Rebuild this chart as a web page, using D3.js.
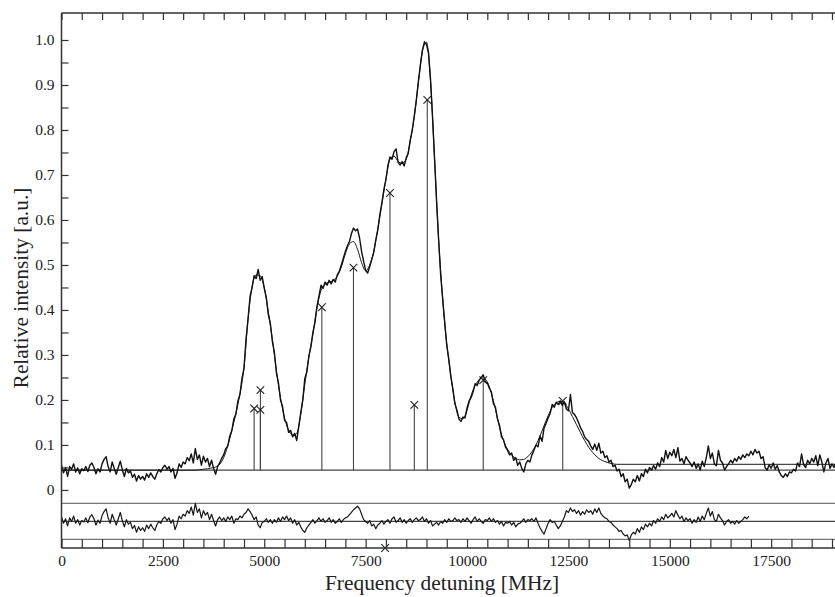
<!DOCTYPE html>
<html><head><meta charset="utf-8">
<script src="https://cdn.jsdelivr.net/npm/d3@7"></script>
<style>
body{margin:0;background:#fff}
svg{display:block}
text{font-family:"Liberation Serif","Times New Roman",serif;fill:#222}
</style>
</head><body>
<svg id="chart" width="835" height="597"></svg>
<script>
// ---- data ----
const sampleStep = 50; // MHz between measured points
const signal = [
0.055,0.038,0.050,0.030,0.052,0.046,0.058,0.040,0.049,0.036,0.047,0.043,0.052,0.041,0.055,0.060,0.050,0.036,0.047,0.040,0.058,
0.068,0.074,0.052,0.040,0.062,0.048,0.035,0.050,0.064,0.045,0.030,0.048,0.038,0.042,0.028,0.035,0.020,0.032,0.024,0.030,
0.022,0.036,0.028,0.038,0.030,0.024,0.036,0.045,0.040,0.050,0.055,0.046,0.052,0.040,0.048,0.026,0.038,0.058,0.050,0.062,
0.058,0.072,0.065,0.080,0.060,0.092,0.068,0.078,0.055,0.075,0.062,0.070,0.052,0.066,0.048,0.035,0.052,0.060,0.070,0.078,
0.092,0.098,0.120,0.132,0.158,0.168,0.198,0.212,0.248,0.270,0.335,0.380,0.430,0.450,0.476,0.470,0.490,0.466,0.474,0.448,
0.428,0.390,0.370,0.330,0.305,0.260,0.238,0.200,0.186,0.155,0.150,0.128,0.132,0.118,0.126,0.110,0.140,0.172,0.200,0.248,
0.262,0.298,0.318,0.350,0.372,0.408,0.432,0.455,0.448,0.462,0.455,0.466,0.458,0.468,0.462,0.478,0.486,0.500,0.515,0.530,
0.542,0.552,0.570,0.582,0.576,0.580,0.560,0.530,0.508,0.488,0.482,0.496,0.512,0.528,0.556,0.578,0.612,0.638,0.668,0.690,
0.722,0.740,0.735,0.752,0.758,0.728,0.722,0.730,0.720,0.738,0.748,0.778,0.800,0.832,0.866,0.908,0.944,0.978,0.996,0.990,
0.972,0.912,0.828,0.735,0.640,0.556,0.478,0.424,0.372,0.322,0.292,0.252,0.225,0.192,0.178,0.158,0.152,0.162,0.160,0.182,
0.198,0.205,0.218,0.236,0.232,0.244,0.250,0.256,0.240,0.238,0.226,0.218,0.192,0.184,0.158,0.144,0.118,0.112,0.095,0.088,
0.078,0.082,0.066,0.072,0.055,0.062,0.048,0.040,0.058,0.066,0.062,0.078,0.088,0.100,0.096,0.120,0.108,0.138,0.148,0.160,
0.170,0.190,0.184,0.195,0.190,0.198,0.188,0.196,0.180,0.176,0.212,0.172,0.168,0.160,0.150,0.138,0.130,0.118,0.112,0.108,
0.098,0.090,0.102,0.088,0.104,0.082,0.086,0.072,0.076,0.062,0.066,0.052,0.055,0.042,0.046,0.030,0.036,0.018,0.024,0.004,
0.012,0.024,0.018,0.032,0.020,0.036,0.030,0.046,0.038,0.050,0.044,0.054,0.046,0.060,0.052,0.072,0.062,0.088,0.070,0.084,
0.076,0.090,0.072,0.094,0.064,0.070,0.058,0.074,0.066,0.060,0.052,0.062,0.048,0.058,0.044,0.064,0.052,0.072,0.098,0.070,
0.082,0.058,0.054,0.088,0.066,0.060,0.044,0.052,0.058,0.066,0.060,0.070,0.064,0.074,0.068,0.078,0.072,0.080,0.076,0.086,
0.078,0.090,0.082,0.086,0.070,0.074,0.050,0.044,0.056,0.048,0.060,0.046,0.054,0.040,0.032,0.028,0.036,0.030,0.040,0.038,
0.046,0.042,0.060,0.052,0.080,0.056,0.050,0.066,0.058,0.070,0.062,0.076,0.054,0.078,0.062,0.040,0.060,0.070,0.048,0.058,
0.050,0.062
];
const fitFreq = [0,3300,3400,3500,3600,3700,3800,3900,4000,4100,4200,4300,4400,4500,4600,4700,4800,4900,5000,
5100,5200,5300,5400,5500,5600,5700,5800,5900,6000,6100,6200,6300,6400,6500,6600,6700,6800,6900,7000,
7100,7200,7300,7400,7500,7600,7700,7800,7900,8000,8100,8200,8300,8400,8500,8600,8700,8800,8900,9000,
9100,9200,9300,9400,9500,9600,9700,9800,9900,10000,10100,10200,10300,10400,10500,10600,10700,10800,10900,11000,
11100,11200,11300,11400,11500,11600,11700,11800,11900,12000,12100,12200,12300,12400,12500,12600,12700,12800,12900,13000,
13100,13200,13300,13400,13500,13600,13700,19100];
const fitValue = [0.044,0.044,0.045,0.046,0.047,0.049,0.051,0.057,0.072,0.098,0.132,0.170,0.213,0.272,0.380,0.452,0.478,0.476,0.450,
0.395,0.335,0.265,0.205,0.160,0.133,0.122,0.126,0.168,0.235,0.295,0.347,0.405,0.443,0.457,0.462,0.465,0.475,0.495,0.525,
0.547,0.552,0.535,0.505,0.487,0.500,0.530,0.580,0.635,0.690,0.735,0.742,0.730,0.726,0.735,0.775,0.830,0.905,0.975,0.995,
0.910,0.735,0.555,0.425,0.325,0.255,0.195,0.162,0.158,0.177,0.210,0.232,0.245,0.249,0.240,0.215,0.180,0.140,0.110,0.090,
0.078,0.070,0.067,0.068,0.074,0.085,0.100,0.120,0.143,0.165,0.183,0.194,0.197,0.193,0.180,0.163,0.145,0.127,0.110,0.095,
0.083,0.074,0.067,0.063,0.060,0.058,0.057,0.057];
const residual = [
-0.060,-0.074,-0.064,-0.080,-0.062,-0.070,-0.058,-0.074,-0.066,-0.078,-0.068,-0.071,-0.062,-0.073,-0.060,-0.055,-0.064,-0.078,-0.067,-0.074,-0.057,
-0.048,-0.042,-0.062,-0.074,-0.054,-0.066,-0.078,-0.064,-0.050,-0.068,-0.082,-0.066,-0.076,-0.072,-0.086,-0.079,-0.094,-0.082,-0.090,-0.084,
-0.092,-0.078,-0.086,-0.076,-0.084,-0.090,-0.078,-0.070,-0.074,-0.064,-0.060,-0.068,-0.062,-0.074,-0.066,-0.088,-0.076,-0.058,-0.064,-0.054,
-0.058,-0.046,-0.052,-0.038,-0.056,-0.030,-0.050,-0.042,-0.062,-0.046,-0.056,-0.050,-0.066,-0.054,-0.068,-0.080,-0.066,-0.060,-0.068,-0.062,
-0.070,-0.060,-0.066,-0.058,-0.074,-0.064,-0.066,-0.058,-0.062,-0.054,-0.050,-0.042,-0.048,-0.056,-0.066,-0.060,-0.078,-0.084,-0.072,-0.070,
-0.064,-0.072,-0.066,-0.074,-0.066,-0.072,-0.062,-0.070,-0.060,-0.066,-0.058,-0.068,-0.062,-0.074,-0.066,-0.078,-0.072,-0.082,-0.090,-0.094,
-0.084,-0.078,-0.072,-0.066,-0.074,-0.068,-0.062,-0.070,-0.064,-0.072,-0.068,-0.062,-0.072,-0.066,-0.074,-0.070,-0.064,-0.072,-0.066,-0.062,
-0.060,-0.055,-0.050,-0.044,-0.040,-0.036,-0.042,-0.054,-0.066,-0.070,-0.074,-0.068,-0.080,-0.076,-0.086,-0.078,-0.074,-0.068,-0.076,-0.070,
-0.066,-0.074,-0.064,-0.060,-0.072,-0.068,-0.062,-0.072,-0.066,-0.074,-0.068,-0.064,-0.072,-0.066,-0.062,-0.068,-0.066,-0.060,-0.070,-0.064,
-0.074,-0.068,-0.080,-0.076,-0.072,-0.078,-0.070,-0.074,-0.066,-0.072,-0.064,-0.070,-0.068,-0.062,-0.068,-0.066,-0.072,-0.064,-0.070,-0.062,
-0.068,-0.074,-0.066,-0.060,-0.070,-0.064,-0.070,-0.074,-0.066,-0.068,-0.062,-0.070,-0.064,-0.072,-0.068,-0.076,-0.070,-0.080,-0.072,-0.074,
-0.070,-0.078,-0.072,-0.082,-0.076,-0.074,-0.070,-0.064,-0.072,-0.066,-0.068,-0.064,-0.070,-0.062,-0.074,-0.084,-0.092,-0.098,-0.086,-0.074,
-0.066,-0.072,-0.070,-0.078,-0.086,-0.080,-0.070,-0.060,-0.046,-0.050,-0.040,-0.048,-0.044,-0.052,-0.046,-0.056,-0.048,-0.054,-0.044,-0.050,
-0.046,-0.054,-0.042,-0.050,-0.040,-0.052,-0.058,-0.062,-0.064,-0.070,-0.072,-0.078,-0.082,-0.086,-0.092,-0.090,-0.098,-0.102,-0.100,-0.112,
-0.100,-0.094,-0.098,-0.086,-0.094,-0.082,-0.088,-0.076,-0.082,-0.074,-0.080,-0.068,-0.074,-0.064,-0.070,-0.060,-0.066,-0.054,-0.062,-0.058,
-0.052,-0.060,-0.046,-0.056,-0.064,-0.058,-0.070,-0.062,-0.068,-0.064,-0.074,-0.066,-0.072,-0.060,-0.070,-0.058,-0.066,-0.052,-0.040,-0.058,
-0.048,-0.066,-0.070,-0.054,-0.062,-0.068,-0.078,-0.070,-0.066,-0.074,-0.070,-0.076,-0.068,-0.074,-0.070,-0.066,-0.060,-0.064,-0.058
];
const stickFreq  = [4750, 4905, 4905, 6420, 7200, 8100, 8700, 9020, 10400, 12360];
const stickValue = [0.181, 0.222, 0.178, 0.406, 0.494, 0.660, 0.189, 0.867, 0.244, 0.198];
const extraMarkerFreq = [7980];
const extraMarkerValue = [-0.129];
const baselineLevel = 0.044;
const residualLevels = [-0.03, -0.07, -0.11];
const residualColors = ["#777", "#444", "#777"];
const xTickValues = d3.range(0, 19001, 500);
const xTickLabels = ["0","2500","5000","7500","10000","12500","15000","17500"];
const yTickValues = d3.range(0, 20.5, 1).map(k => k / 20);
const yTickLabels = ["0","0.1","0.2","0.3","0.4","0.5","0.6","0.7","0.8","0.9","1.0"];

// ---- layout ----
const W = 835, H = 597;
const padL = 61.5, padR = 832, padT = 13, padB = 548;
const x = d3.scaleLinear().domain([0, 19000]).range([padL, padR]);
const y = d3.scaleLinear().domain([-0.129, 1.06]).range([padB, padT]);

const svg = d3.select("#chart");
svg.append("defs").append("clipPath").attr("id","plot")
  .append("rect").attr("x", padL).attr("y", padT).attr("width", W - padL).attr("height", padB - padT);
const g = svg.append("g").attr("clip-path","url(#plot)");

// horizontal reference lines
g.append("line").attr("x1", padL).attr("x2", W).attr("y1", y(baselineLevel)).attr("y2", y(baselineLevel))
  .attr("stroke","#444").attr("stroke-width",1.1);
residualLevels.forEach((lv, i) => {
  g.append("line").attr("x1", padL).attr("x2", W).attr("y1", y(lv)).attr("y2", y(lv))
    .attr("stroke", residualColors[i]).attr("stroke-width",1.2);
});

// sticks + crosses
const cross = (cx, cy, s) => `M${cx-s},${cy-s}L${cx+s},${cy+s}M${cx+s},${cy-s}L${cx-s},${cy+s}`;
stickFreq.forEach((f, i) => {
  g.append("line").attr("x1", x(f)).attr("x2", x(f)).attr("y1", y(baselineLevel)).attr("y2", y(stickValue[i]))
    .attr("stroke","#444").attr("stroke-width",1.1);
  g.append("path").attr("d", cross(x(f), y(stickValue[i]), 3.8)).attr("stroke","#222").attr("stroke-width",1.1).attr("fill","none");
});
extraMarkerFreq.forEach((f, i) => {
  svg.append("path").attr("d", cross(x(f), y(extraMarkerValue[i]), 3.8)).attr("stroke","#222").attr("stroke-width",1.1).attr("fill","none");
});

// residual trace
const sampleLine = d3.line().x((d, i) => x(i * sampleStep)).y(d => y(d));
g.append("path").datum(residual).attr("d", sampleLine)
  .attr("fill","none").attr("stroke","#161616").attr("stroke-width",1.2).attr("stroke-linejoin","round");

// fit curve
const fitLine = d3.line().x(d => x(d[0])).y(d => y(d[1])).curve(d3.curveMonotoneX);
g.append("path").datum(fitFreq.map((f, i) => [f, fitValue[i]])).attr("d", fitLine)
  .attr("fill","none").attr("stroke","#1a1a1a").attr("stroke-width",1.0);

// measured signal
g.append("path").datum(signal).attr("d", sampleLine)
  .attr("fill","none").attr("stroke","#111").attr("stroke-width",1.4).attr("stroke-linejoin","round");

// ---- axes ----
const axisColor = "#333";
const majorX = xTickValues.filter(v => v % 2500 === 0);
const fmtX = d => { const k = majorX.indexOf(d); return k >= 0 ? xTickLabels[k] : ""; };
const bottomAxis = svg.append("g").attr("transform", `translate(0,${padB})`)
  .call(d3.axisBottom(x).tickValues(xTickValues).tickSize(-9).tickPadding(7).tickFormat(fmtX));
const topAxis = svg.append("g").attr("transform", `translate(0,${padT})`)
  .call(d3.axisTop(x).tickValues(xTickValues).tickSize(-7).tickFormat(""));
const fmtY = d => { const k = Math.round(d * 20); return k % 2 === 0 ? yTickLabels[k / 2] : ""; };
const leftAxis = svg.append("g").attr("transform", `translate(${padL},0)`)
  .call(d3.axisLeft(y).tickValues(yTickValues).tickSize(-7).tickPadding(7).tickFormat(fmtY));
[bottomAxis, topAxis, leftAxis].forEach(a => {
  a.select(".domain").remove();
  a.selectAll(".tick line").attr("stroke", axisColor).attr("stroke-width", 1.2);
  a.selectAll(".tick text").attr("font-size", 15.5).attr("fill", "#222")
    .attr("font-family", '"Liberation Serif","Times New Roman",serif');
});
// frame lines
svg.append("line").attr("x1", padL).attr("x2", W).attr("y1", padB).attr("y2", padB).attr("stroke", axisColor).attr("stroke-width", 1.5);
svg.append("line").attr("x1", padL).attr("x2", W).attr("y1", padT).attr("y2", padT).attr("stroke", axisColor).attr("stroke-width", 1.5);
svg.append("line").attr("x1", padL).attr("x2", padL).attr("y1", padT).attr("y2", padB).attr("stroke", axisColor).attr("stroke-width", 1.5);

// titles
svg.append("text").attr("x", 442).attr("y", 590).attr("text-anchor","middle").attr("font-size", 21.4)
  .text("Frequency detuning [MHz]");
svg.append("text").attr("transform", "translate(28,288) rotate(-90)").attr("text-anchor","middle").attr("font-size", 21.4)
  .text("Relative intensity [a.u.]");
</script>
</body></html>
